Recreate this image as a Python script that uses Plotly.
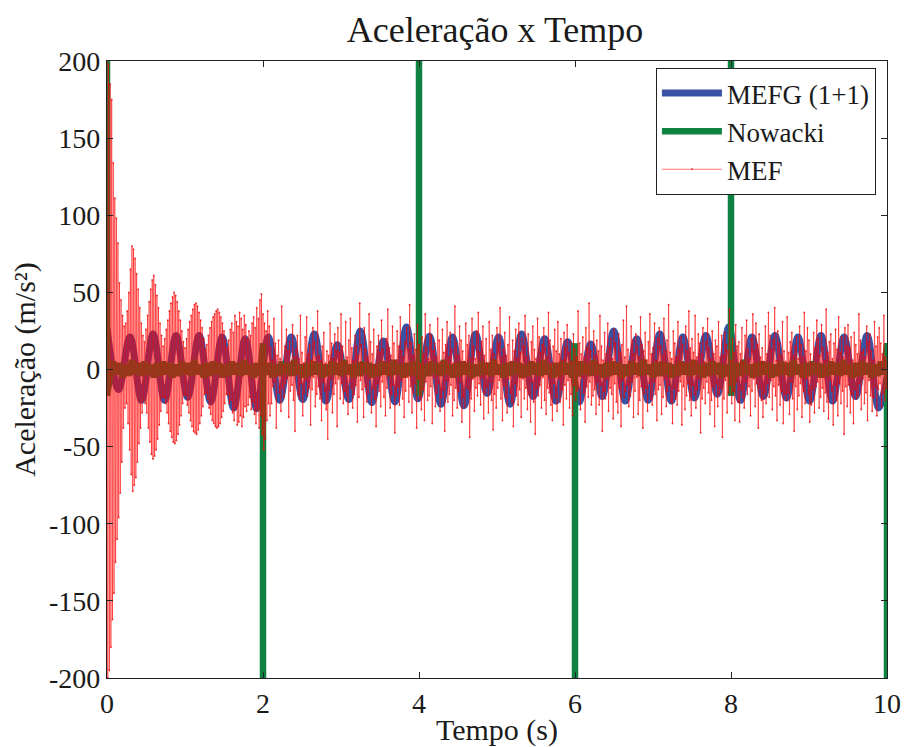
import numpy as np
import plotly.graph_objects as go

# ---------------- data ----------------
# MEFG (1+1): successive extrema of the smooth oscillation (half period ~0.1477 s)
mefg_extrema = [27, -13, 21, -20, 23, -20, 22, -18, 22, -21,
                21, -25, 20, -25.5, 21, -20, 21, -19.5, 23, -20.5,
                16, -19.5, 25, -21.5, 18.5, -21, 27.5, -19, 21.5, -22.5,
                21, -23.5, 23, -15.5, 21, -22.5, 23, -17.5, 20, -20.5,
                18, -21, 16.5, -17.5, 25, -20.5, 20, -20, 23, -20.5,
                21, -18.5, 22, -16, 27.5, -20, 21, -17.5, 22, -18.5,
                21, -20.5, 22, -20.5, 21, -17.5, 22, -25]
mefg_end = -5
mefg_half_period = 0.14765

# Nowacki: small oscillation band sampled every 0.04 s ...
nowacki_band = [3, -4, 5, -3, 4, -5, 3, -4, 6, -3, 4, -4, 5, -3, 3, -5, 4, -4, 5, -3, 4, -5, 3, -4, 5,
                -3, 4, -4, 6, -3, 3, -5, 4, -4, 5, -3, 4, -5, 3, -4, 5, -3, 4, -4, 6, -3, 3, -5, 4, -4,
                5, -3, 4, -5, 3, -4, 5, -3, 4, -4, 6, -3, 3, -5, 4, -4, 5, -3, 4, -5, 3, -4, 5, -3, 4,
                -4, 6, -3, 3, -5, 4, -4, 5, -3, 4, -5, 3, -4, 5, -3, 4, -4, 6, -3, 3, -5, 4, -4, 5, -3,
                4, -5, 3, -4, 5, -3, 4, -4, 6, -3, 3, -5, 4, -4, 5, -3, 4, -5, 3, -4, 5, -3, 4, -4, 6,
                -3, 3, -5, 4, -4, 5, -3, 4, -5, 3, -4, 5, -3, 4, -4, 6, -3, 3, -5, 4, -4, 5, -3, 4, -5,
                3, -4, 5, -3, 4, -4, 6, -3, 3, -5, 4, -4, 5, -3, 4, -5, 3, -4, 5, -3, 4, -4, 6, -3, 3,
                -5, 4, -4, 5, -3, 4, -5, 3, -4, 5, -3, 4, -4, 6, -3, 3, -5, 4, -4, 5, -3, 4, -5, 3, -4,
                5, -3, 4, -4, 6, -3, 3, -5, 4, -4, 5, -3, 4, -5, 3, -4, 5, -3, 4, -4, 6, -3, 3, -5, 4,
                -4, 5, -3, 4, -5, 3, -4, 5, -3, 4, -4, 6, -3, 3, -5, 4, -4, 5, -3, 4, -5, 3, -4, 5, -3,
                4]
nowacki_dt = 0.04
# ... plus the impulses every 2 s
nowacki_spike_t = [0.0, 2.0, 4.0, 6.0, 8.0, 10.0]
nowacki_spike_peak = [200, -200, 200, -200, 200, -200]
nowacki_spike_rebound = [-17, 17, -17, 17, -17, 17]

# MEF: sampled every 0.01 s
mef = [200, -200, 198, -195, 185, -180, 175, -162, 134, -145,
       111, -125, 98, -110, 82, -96, 56, -80, 45, -60,
       35, -38, 28, -25, 30, -22, 38, -35, 50, -52,
       65, -68, 80, -79, 78, -75, 72, -70, 62, -60,
       52, -48, 40, -38, 30, -28, 22, -20, 18, -22,
       26, -28, 35, -38, 44, -47, 52, -55, 58, -58,
       61, -56, 55, -52, 48, -45, 40, -36, 30, -27,
       22, -18, 15, -18, 20, -22, 26, -28, 32, -35,
       38, -40, 43, -44, 47, -47, 50, -48, 48, -46,
       44, -42, 38, -36, 32, -30, 25, -22, 18, -16,
       14, -17, 20, -23, 26, -28, 31, -33, 35, -37,
       39, -40, 42, -41, 43, -42, 41, -39, 37, -35,
       32, -30, 27, -24, 20, -16, 13, -15, 16, -19,
       22, -25, 27, -29, 31, -33, 34, -35, 36, -37,
       38, -38, 39, -37, 37, -35, 34, -31, 30, -27,
       25, -22, 19, -16, 14, -16, 19, -22, 26, -20,
       30, -28, 24, -33, 35, -25, 31, -36, 28, -34,
       37, -30, 33, -37, 26, -31, 35, -24, 29, -27,
       20, -23, 25, -18, 22, -26, 30, -21, 34, -29,
       27, -35, 40, -26, 33, -38, 45, -30, 49, -42,
       36, -52, 30, -45, 25, -33, 38, -22, 28, -30,
       14, -22, 6, -11, 33, -8, 17, -38, 9, -4, 19, -15, 7, -27, 41, -12, 3, -18, 15, -9,
       26, -6, 12, -31, 18, -14, 5, -10, 29, -20, 8, -40, 13, -3, 22, -16, 7, -19, 35, -9,
       11, -30, 4, -15, 21, -7, 34, -17, 10, -12, 16, -36, 6, -13, 27, -5, 18, -24, 8, -16,
       38, -11, 9, -19, 6, -33, 15, -8, 24, -14, 4, -26, 12, -45, 9, -13, 30, -6, 17, -28,
       7, -16, 23, -9, 12, -37, 27, -6, 11, -19, 36, -9, 15, -22, 5, -14, 31, -17, 8, -29,
       19, -8, 33, -12, 14, -25, 6, -16, 22, -10, 15, -34, 9, -18, 43, -7, 16, -13, 4, -31,
       27, -11, 13, -21, 8, -15, 36, -6, 18, -28, 10, -12, 26, -19, 3, -37, 15, -9, 22, -14,
       11, -24, 32, -8, 13, -18, 5, -30, 20, -12, 39, -4, 14, -25, 9, -16, 28, -10, 17, -41,
       6, -17, 25, -11, 15, -23, 34, -7, 12, -19, 8, -31, 18, -14, 27, -5, 13, -21, 42, -11,
       17, -28, 9, -15, 23, -9, 13, -38, 29, -6, 16, -19, 4, -26, 21, -13, 10, -33, 36, -8,
       14, -20, 7, -17, 29, -11, 22, -35, 12, -5, 17, -24, 8, -15, 33, -9, 19, -27, 5, -18,
       26, -13, 11, -40, 16, -7, 31, -21, 8, -16, 24, -10, 13, -30, 4, -20, 41, -12, 17, -25,
       9, -14, 28, -8, 19, -34, 12, -18, 5, -24, 30, -11, 16, -13, 22, -44, 7, -19, 33, -6,
       15, -27, 7, -12, 25, -17, 37, -9, 11, -23, 18, -5, 28, -32, 9, -15, 20, -11, 4, -28,
       31, -8, 13, -20, 22, -39, 10, -16, 6, -25, 27, -12, 17, -7, 40, -19, 8, -33, 13, -10,
       24, -18, 9, -28, 16, -6, 34, -15, 5, -21, 19, -37, 12, -9, 26, -17, 7, -23, 30, -13,
       11, -31, 20, -6, 15, -19, 35, -12, 8, -26, 23, -16, 5, -34, 18, -8, 28, -21, 13, -42,
       7, -12, 33, -17, 21, -10, 11, -25, 16, -5, 27, -20, 14, -29, 8, -12, 37, -15, 19, -23,
       4, -33, 15, -9, 26, -18, 12, -27, 31, -6, 10, -21, 20, -13, 6, -36, 24, -10, 14, -19,
       29, -7, 11, -25, 18, -16, 5, -30, 23, -10, 13, -20, 8, -14, 38, -12, 17, -26, 10, -5,
       21, -15, 8, -34, 27, -11, 14, -18, 43, -8, 12, -23, 5, -17, 25, -13, 9, -29, 19, -8,
       12, -23, 35, -10, 15, -40, 6, -14, 24, -19, 10, -6, 30, -27, 14, -12, 20, -16, 7, -32,
       26, -9, 17, -21, 4, -28, 23, -12, 11, -37, 16, -7, 32, -18, 8, -14, 41, -10, 13, -24,
       5, -17, 28, -8, 19, -31, 10, -14, 23, -5, 15, -29, 8, -20, 34, -11, 16, -38, 12, -15,
       24, -12, 6, -27, 18, -9, 36, -19, 10, -23, 14, -8, 30, -16, 6, -33, 20, -13, 27, -10,
       15, -29, 9, -18, 33, -6, 12, -24, 19, -14, 42, -10, 11, -21, 7, -35, 25, -12, 17, -19,
       8, -23, 31, -14, 13, -8, 21, -36, 16, -11, 4, -26, 28, -17, 12, -9, 38, -20, 14, -30,
       20, -10, 11, -16, 35, -25, 8, -13, 23, -6, 17, -41, 10, -19, 27, -12, 5, -22, 18, -8,
       33, -15, 14, -29, 7, -20, 25, -11, 10, -37, 19, -9, 15, -24, 31, -16, 8, -12, 22, -44,
       9, -19, 24, -7, 16, -28, 12, -15, 39, -10, 6, -22, 20, -14, 11, -33, 29, -8, 15, -21,
       18, -34, 10, -13, 27, -18, 5, -25, 22, -8, 32, -16, 13, -11, 7, -30, 20, -14, 36, -6,
       12, -24, 30, -9, 16, -38, 23, -12, 8, -20, 14, -31, 5, -15, 28, -22, 10, -9, 37, -18,
       22, -7, 13, -26, 19, -11, 40, -17, 6, -33, 25, -10, 17, -23, 9, -14, 31, -35, 12, -16,
       5, -20, 34, -15, 11, -29, 18, -8, 24, -19, 9, -40, 15, -11, 21, -26, 7, -17, 28, -9,
       16, -31, 8, -14, 37, -22, 12, -6, 27, -16, 19, -34, 10, -23, 4, -13, 24, -28, 14, -11,
       32, -8, 20, -25, 9, -18, 29, -12, 14, -27, 6, -15, 39, -21, 11, -32, 18, -7, 23, -14,
       7, -36, 17, -10, 26, -20, 13, -30, 34, -9, 11, -22, 21, -14, 8, -42, 27, -11, 15, -24,
       29, -10, 14, -28, 21, -16, 6, -35, 24, -13, 16, -19, 10, -17, 36, -9, 19, -26, 11, -6,
       13, -22, 8, -15, 28, -33, 18, -7, 23, -17, 12, -27, 6, -18, 31, -11, 15, -30, 21, -13,
       27, -9, 17, -24, 10, -15, 35, -20, 8, -12, 5]
mef_dt = 10.0 / (len(mef) - 1)

x_ticks = [0, 2, 4, 6, 8, 10]
y_ticks = [-200, -150, -100, -50, 0, 50, 100, 150, 200]

# ---------------- build traces ----------------
t_mefg = list(np.arange(len(mefg_extrema)) * mefg_half_period) + [10.0]
y_mefg = mefg_extrema + [mefg_end]

# Nowacki: merge the band with the (vertical) impulses
band_t = np.arange(len(nowacki_band)) * nowacki_dt
pts = [(t, 0, v) for t, v in zip(band_t, nowacki_band)
       if min(abs(t - s) for s in nowacki_spike_t) > 0.03]
for s, p, r in zip(nowacki_spike_t, nowacki_spike_peak, nowacki_spike_rebound):
    if p > 0:
        seq = [0, p, r] if s > 0 else [p, r]
    else:
        seq = [r, p, 0] if s < 10 else [r, p]
    pts += [(s, k + 1, v) for k, v in enumerate(seq)]
pts.sort(key=lambda q: (q[0], q[1]))
t_now = [q[0] for q in pts]
y_now = [q[2] for q in pts]

t_mef = np.arange(len(mef)) * mef_dt

FONT = "Liberation Serif, Times New Roman, serif"
INK = "#1a1a1a"

fig = go.Figure()
fig.add_trace(go.Scatter(x=t_mefg, y=y_mefg, mode="lines", name="MEFG (1+1)",
                         line=dict(color="#3a52a3", width=7, shape="spline", smoothing=1.0)))
fig.add_trace(go.Scatter(x=t_now, y=y_now, mode="lines", name="Nowacki",
                         line=dict(color="#0f8241", width=6.5)))
fig.add_trace(go.Scatter(x=t_mef, y=mef, mode="lines+markers", name="MEF",
                         line=dict(color="rgba(255,0,0,0.6)", width=0.9),
                         marker=dict(color="rgba(235,0,0,0.7)", size=2)))

fig.update_layout(
    width=905, height=747,
    margin=dict(l=107, r=18, t=61, b=69),
    paper_bgcolor="white", plot_bgcolor="white",
    font=dict(family=FONT, size=28, color=INK),
    title=dict(text="Aceleração x Tempo", x=0.547, xanchor="center",
               y=1 - 29 / 747, yanchor="middle",
               font=dict(family=FONT, size=36, color=INK)),
    legend=dict(x=0.7035, y=0.989, xanchor="left", yanchor="top",
                bgcolor="white", bordercolor="#222", borderwidth=1.2,
                font=dict(family=FONT, size=27, color=INK),
                tracegroupgap=0, itemwidth=60),
    showlegend=True,
)
fig.update_xaxes(range=[0, 10], tickvals=x_ticks, ticktext=[str(v) for v in x_ticks],
                 showgrid=False, zeroline=False, showline=True, linecolor="#222",
                 linewidth=1.2, mirror="allticks", ticks="inside", ticklen=6,
                 tickcolor="#222", automargin=False, tickfont=dict(size=28),
                 title=dict(text="Tempo (s)", standoff=4,
                            font=dict(family=FONT, size=30)))
fig.update_yaxes(range=[-200, 200], tickvals=y_ticks, ticktext=[str(v) for v in y_ticks],
                 showgrid=False, zeroline=False, showline=True, linecolor="#222",
                 linewidth=1.2, mirror="allticks", ticks="inside", ticklen=6,
                 tickcolor="#222", automargin=False, tickfont=dict(size=28),
                 title=dict(text="Aceleração (m/s²)", standoff=4,
                            font=dict(family=FONT, size=30)))

fig.write_html("out.html")
